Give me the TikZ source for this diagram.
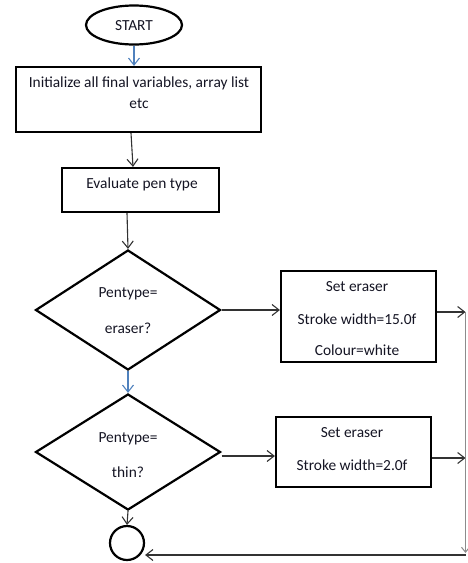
\documentclass[tikz,border=0pt]{standalone}
\usepackage{fontspec}
\setmainfont{Carlito}
\usetikzlibrary{shapes.geometric,arrows.meta}
\definecolor{flowblue}{RGB}{79,129,189}
\definecolor{linkgray}{RGB}{50,50,50}
\definecolor{railgray}{RGB}{140,140,140}
\definecolor{inkdark}{RGB}{20,20,35}
\tikzset{
  txt/.style={font=\fontsize{15.4}{17}\selectfont, text=inkdark, inner sep=0pt},
  procbox/.style={draw=black, line width=2.2pt, rectangle, inner sep=0pt},
  decide/.style={draw=black, line width=2.2pt, diamond, inner sep=0pt},
  terminal/.style={draw=black, line width=2.2pt, ellipse, inner sep=0pt},
  link/.style={draw=linkgray, line width=1.1pt, -{Straight Barb[length=7pt,width=11pt]}},
  bluelink/.style={link, draw=flowblue},
}
\begin{document}
\begin{tikzpicture}[x=1pt, y=-1pt]
\useasboundingbox (0,0) rectangle (467,563);

% start and end terminals
\node[terminal, minimum width=96pt, minimum height=39pt] (start) at (134,25) {};
\node[txt] (start-t) at (134,26) {START};
\node[draw=black, line width=2.2pt, circle, minimum size=34pt, inner sep=0pt] (stop) at (127,543) {};

% process boxes
\node[procbox, minimum width=245pt, minimum height=65pt] (init) at (138.5,99.5) {};
\node[txt] (init-t1) at (139,83) {Initialize all final variables, array list};
\node[txt] (init-t2) at (139,104) {etc};

\node[procbox, minimum width=157pt, minimum height=44pt] (eval) at (140.5,190) {};
\node[txt] (eval-t) at (142,184) {Evaluate pen type};

% decisions
\node[decide, minimum width=185pt, minimum height=120pt] (d1) at (128,310) {};
\node[txt] (d1-t1) at (128,294) {Pentype=};
\node[txt] (d1-t2) at (128,328) {eraser?};

\node[decide, minimum width=185pt, minimum height=116pt] (d2) at (128,452) {};
\node[txt] (d2-t1) at (128,439) {Pentype=};
\node[txt] (d2-t2) at (128,472) {thin?};

% settings boxes
\node[procbox, minimum width=155pt, minimum height=91pt] (b1) at (358.5,316.5) {};
\node[txt] (b1-t1) at (357,287) {Set eraser};
\node[txt] (b1-t2) at (357,319) {Stroke width=15.0f};
\node[txt] (b1-t3) at (357,350) {Colour=white};

\node[procbox, minimum width=155pt, minimum height=70pt] (b2) at (353.5,452) {};
\node[txt] (b2-t1) at (352,433) {Set eraser};
\node[txt] (b2-t2) at (352,465) {Stroke width=2.0f};

% return rail on the right
\coordinate (r1) at (465.5,312);
\coordinate (r2) at (465.5,458);
\coordinate (r3) at (465.5,553);
\coordinate (r4) at (465.5,555);

% connectors
\draw[bluelink] (start.south) -- (init.north -| start.south);
\draw[link] ([xshift=-7.5pt]init.south) -- ([xshift=-7.5pt]eval.north);
\draw[link] ([xshift=-13.5pt]eval.south) -- (d1.north);
\draw[bluelink] (d1.south) -- (d2.north);
\draw[link] (d2.south) -- (stop.north);
\draw[link] (d1.east) -- (b1.west |- d1.east);
\draw[link] ([yshift=-4pt]d2.east) -- ([yshift=-4pt]b2.west |- d2.east);
\draw[link] (b1.east |- r1) -- (r1);
\draw[link] (b2.east |- r2) -- (r2);
\draw[draw=railgray, line width=1pt, -{Straight Barb[length=5pt,width=8pt]}] (r1) -- (r3);
\draw[link] (r4) -- (stop.east |- r4);
\end{tikzpicture}
\end{document}
